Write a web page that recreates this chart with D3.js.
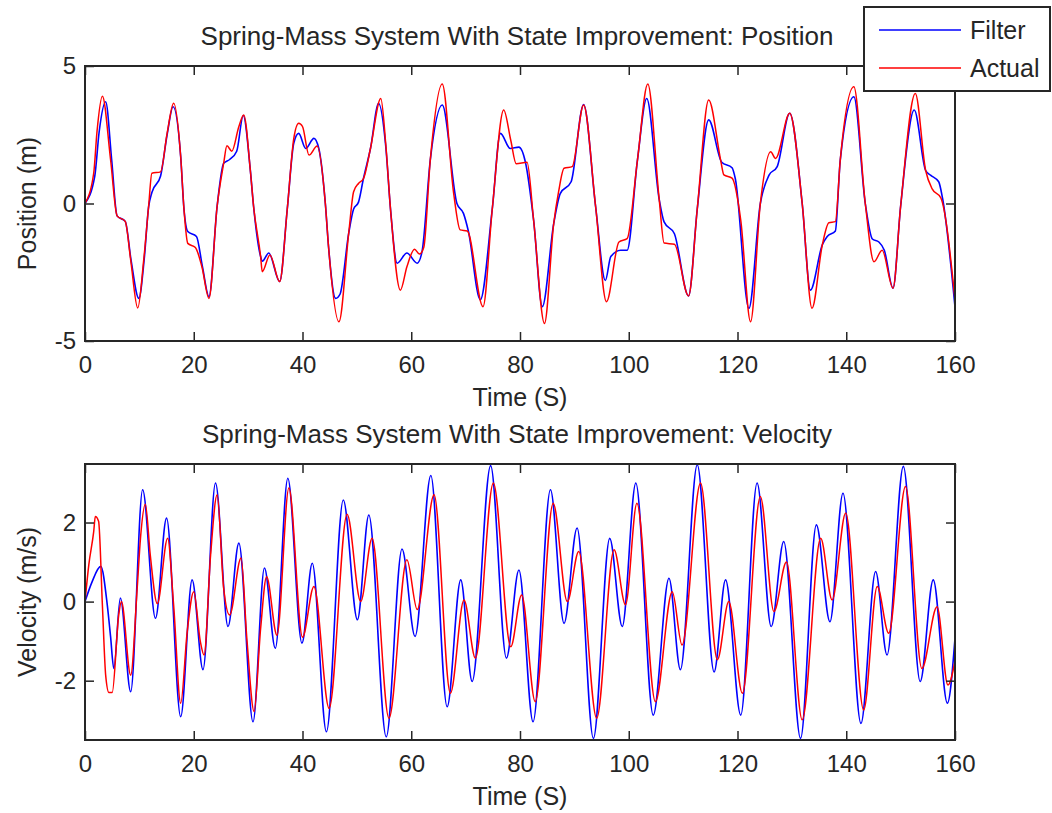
<!DOCTYPE html>
<html>
<head>
<meta charset="utf-8">
<script src="https://cdn.jsdelivr.net/npm/d3@7"></script>
<style>
  html, body { margin: 0; padding: 0; background: #fff; }
  svg { display: block; font-family: "Liberation Sans", Arial, sans-serif; }
</style>
</head>
<body>
<svg id="chart" width="1052" height="813"></svg>
<script>
// ---------------- data ----------------
const xTicks = [0, 20, 40, 60, 80, 100, 120, 140, 160];
const posTicks = [-5, 0, 5];
const velTicks = [-2, 0, 2];
const seriesNames = ["Filter", "Actual"];

const posActualT = [0, 1.6, 2.2, 3.2, 4.7, 5.9, 7.4, 8.4, 9.7, 10.8, 11.7, 12.3, 13.9, 15.1, 16.3, 17.6, 18.2, 18.9, 20.3, 21.5, 22.8, 24.3, 25.5, 26.1, 27.0, 28.3, 29.2, 30.4, 31.0, 32.3, 32.6, 34.0, 35.8, 37.2, 38.4, 39.3, 40.0, 41.2, 42.7, 44.2, 44.8, 46.7, 48.5, 49.4, 50.3, 51.2, 52.5, 54.4, 55.3, 56.2, 58.0, 59.2, 60.6, 61.5, 62.3, 63.5, 65.7, 67.8, 69.0, 70.3, 73.2, 74.9, 77.0, 78.3, 79.3, 81.3, 82.5, 84.5, 86.2, 87.1, 88.1, 89.6, 91.7, 93.9, 95.9, 98.2, 99.7, 101.6, 103.5, 105.6, 106.5, 108.4, 111.0, 112.6, 114.7, 116.9, 117.5, 119.0, 120.6, 122.4, 124.2, 126.1, 127.0, 129.6, 131.9, 133.7, 135.6, 136.8, 138.0, 138.9, 141.4, 143.5, 145.1, 146.6, 148.6, 150.0, 152.7, 154.6, 155.8, 157.4, 160];
const posActual = [0, 1.1, 2.6, 3.9, 1.6, -0.45, -0.65, -2.05, -3.8, -2.05, -0.1, 1.1, 1.15, 2.55, 3.65, 1.7, -0.2, -1.45, -1.6, -2.3, -3.45, -0.1, 1.46, 2.1, 1.9, 2.8, 3.22, 1.22, -0.1, -1.93, -2.48, -1.87, -2.84, -0.2, 2.37, 2.92, 2.8, 1.76, 2.09, 0, -1.6, -4.3, -1.08, 0.43, 0.73, 0.9, 2.0, 3.82, 2.19, -0.24, -3.15, -2.3, -1.66, -1.84, -1.6, 1.58, 4.35, 0.37, -0.96, -1.0, -3.75, -0.2, 3.4, 2.3, 1.45, 1.5, -0.6, -4.36, -0.73, 0.43, 1.28, 1.34, 3.58, -0.1, -3.57, -1.4, -1.28, 1.58, 4.35, 0.15, -1.44, -1.48, -3.36, -0.2, 3.76, 1.58, 1.04, 0.92, -0.61, -4.3, 0, 1.88, 1.64, 3.28, 0, -3.81, -1.5, -0.7, -0.66, 1.58, 4.25, 0, -2.12, -1.7, -3.08, -0.1, 4.0, 1.2, 0.53, 0.2, -3.5];

const posFilterT = [0, 1.8, 2.6, 3.8, 4.9, 5.9, 7.4, 8.5, 9.9, 10.9, 11.7, 12.3, 13.9, 15.1, 16.2, 17.6, 18.2, 18.9, 20.5, 21.6, 22.8, 24.3, 25.5, 26.6, 27.9, 29.1, 30.4, 31.0, 32.3, 32.6, 33.8, 35.8, 37.2, 38.4, 39.3, 40.6, 42.1, 43.0, 44.2, 44.8, 46.1, 46.9, 48.5, 49.4, 50.3, 51.2, 52.5, 54.0, 55.3, 56.2, 57.4, 59.2, 61.1, 62.0, 63.5, 65.7, 68.4, 69.6, 70.5, 72.7, 74.9, 76.4, 78.2, 79.8, 81.0, 82.5, 84.1, 86.2, 87.4, 89.4, 91.7, 93.9, 95.7, 96.7, 98.5, 99.7, 101.6, 103.3, 105.6, 106.5, 108.4, 111.0, 112.6, 114.7, 117.1, 119.0, 119.6, 122.1, 124.2, 125.8, 127.3, 129.6, 131.9, 133.4, 135.6, 136.5, 138.0, 138.9, 141.4, 143.5, 144.8, 146.0, 147.0, 148.6, 150.0, 152.5, 154.6, 155.5, 157.0, 157.7, 160];
const posFilter = [0, 1.0, 2.6, 3.7, 1.6, -0.45, -0.65, -2.1, -3.45, -2.0, -0.12, 0.4, 1.0, 2.5, 3.52, 1.7, -0.2, -1.02, -1.2, -2.3, -3.39, -0.1, 1.46, 1.6, 1.9, 3.2, 1.22, -0.1, -1.93, -2.1, -1.8, -2.84, -0.2, 2.2, 2.55, 2.0, 2.37, 2.0, 0, -1.6, -3.45, -3.3, -1.08, -0.2, 0.05, 0.9, 2.0, 3.64, 2.1, -0.24, -2.17, -1.8, -2.17, -1.73, 1.58, 3.58, 0, -0.36, -1.0, -3.5, -0.2, 2.55, 2.0, 2.05, 1.5, -0.6, -3.75, -0.73, 0.36, 0.79, 3.6, -0.1, -2.8, -1.93, -1.7, -1.7, 1.58, 3.82, 0.15, -0.67, -1.1, -3.36, -0.2, 3.04, 1.5, 1.3, 0.9, -3.81, 0, 1.03, 1.34, 3.28, 0, -3.15, -1.5, -1.2, -1.0, 1.58, 3.88, 0, -1.29, -1.4, -1.7, -3.08, -0.1, 3.4, 1.2, 1.03, 0.79, 0.2, -3.76];

const velActualT = [0, 0.7, 1.6, 1.9, 2.5, 3.2, 3.8, 4.4, 5.0, 6.2, 6.7, 8.4, 9.6, 10.2, 11.1, 12.0, 13.3, 15.2, 16.3, 17.6, 18.8, 20.0, 21.2, 21.9, 23.1, 24.3, 25.5, 26.6, 28.7, 29.8, 31.1, 32.3, 33.4, 35.3, 37.5, 40.0, 42.1, 44.9, 48.2, 50.7, 52.8, 55.9, 59.2, 61.1, 64.2, 67.2, 69.7, 71.8, 75.1, 78.3, 80.3, 82.8, 86.1, 88.7, 90.8, 94.1, 97.3, 99.4, 101.5, 104.9, 108.0, 109.8, 113.2, 116.3, 118.4, 120.9, 124.2, 126.7, 129.0, 131.9, 135.3, 137.4, 139.9, 143.2, 145.7, 147.8, 150.9, 153.9, 156.7, 158.7, 160];
const velActual = [0, 0.93, 1.77, 2.15, 2.03, -0.09, -1.86, -2.3, -2.3, -0.34, 0.0, -1.86, 0.34, 1.6, 2.46, 1.18, -0.05, 1.6, -0.09, -2.57, -0.76, 0.25, -1.0, -1.35, 1.18, 2.7, 0.34, -0.34, 1.1, -1.0, -2.78, -0.68, 0.63, -0.85, 2.87, -0.9, 0.38, -2.7, 2.21, 0.0, 1.6, -2.95, 1.06, -0.2, 2.7, -2.32, 0.04, -1.43, 3.0, -1.14, 0.17, -2.53, 2.49, 0, 1.27, -2.95, 1.31, -0.08, 2.49, -2.53, 0.25, -1.1, 3.0, -1.47, 0.0, -2.32, 2.66, -0.25, 1.0, -2.99, 1.6, 0.04, 2.24, -2.74, 0.38, -0.8, 2.91, -1.69, -0.13, -2.11, -1.5];

const velFilterT = [0, 1.3, 2.9, 4.1, 4.7, 5.3, 6.5, 8.4, 10.6, 12.96, 15.0, 17.6, 19.7, 21.7, 24.0, 26.3, 28.3, 30.9, 33.0, 35.0, 37.3, 39.9, 41.8, 44.4, 47.5, 50.1, 52.2, 55.4, 58.3, 60.7, 63.6, 66.6, 69.1, 71.2, 74.6, 77.5, 79.8, 82.4, 85.6, 88.1, 90.5, 93.5, 96.5, 98.8, 101.3, 104.5, 107.4, 109.5, 112.6, 115.7, 117.8, 120.6, 123.6, 126.2, 128.5, 131.6, 134.5, 137.0, 139.4, 142.7, 145.4, 147.5, 150.5, 153.6, 156.0, 158.6, 160];
const velFilter = [0, 0.5, 0.89, -0.09, -0.88, -1.69, 0.09, -2.28, 2.83, -0.42, 2.11, -2.91, 0.55, -1.72, 3.0, -0.63, 1.48, -3.04, 0.85, -1.18, 3.12, -1.05, 0.97, -3.29, 2.57, -0.46, 2.19, -3.42, 1.33, -0.88, 3.19, -2.66, 0.55, -2.02, 3.44, -1.43, 0.8, -3.04, 2.83, -0.55, 1.86, -3.46, 1.6, -0.63, 3.0, -2.87, 0.59, -1.72, 3.46, -1.78, 0.55, -2.87, 3.0, -0.63, 1.52, -3.46, 1.94, -0.51, 2.74, -3.08, 0.76, -1.35, 3.42, -2.02, 0.55, -2.57, -0.93];

// ---------------- drawing ----------------
const svg = d3.select("#chart");
const W = 1052, H = 813;
svg.append("rect").attr("width", W).attr("height", H).attr("fill", "#fff");

const axisColor = "#262626";
const fontFam = '"Liberation Sans", Arial, sans-serif';
const colFilter = "#0000ff", colActual = "#ff0000";
const fmt = d => String(d);

function panel(cfg) {
  const { left, right, top, bottom, yDomain, yTicks, title, yLabel, filterT, filterV, actualT, actualV, id } = cfg;
  const x = d3.scaleLinear().domain([0, 160]).range([left, right]);
  const y = d3.scaleLinear().domain(yDomain).range([bottom, top]);
  const g = svg.append("g");

  g.append("clipPath").attr("id", id).append("rect")
    .attr("x", left).attr("y", top).attr("width", right - left).attr("height", bottom - top);

  const line = (ts, vs) => d3.line().curve(d3.curveMonotoneX)
      .x((d, i) => x(ts[i])).y((d, i) => y(vs[i]))(vs);

  const lines = g.append("g").attr("clip-path", `url(#${id})`);
  lines.append("path").attr("d", line(filterT, filterV))
    .attr("fill", "none").attr("stroke", colFilter).attr("stroke-width", 1.6);
  lines.append("path").attr("d", line(actualT, actualV))
    .attr("fill", "none").attr("stroke", colActual).attr("stroke-width", 1.5);

  const styleAxis = sel => {
    sel.select(".domain").remove();
    sel.selectAll(".tick line").attr("stroke", axisColor).attr("stroke-width", 1.5);
    sel.selectAll(".tick text").attr("fill", "#262626").attr("font-size", 24).attr("font-family", fontFam);
  };
  g.append("g").attr("transform", `translate(0,${bottom})`)
    .call(d3.axisBottom(x).tickValues(xTicks).tickSize(-9).tickPadding(15).tickFormat(fmt))
    .call(styleAxis);
  g.append("g").attr("transform", `translate(0,${top})`)
    .call(d3.axisTop(x).tickValues(xTicks).tickSize(-9).tickFormat(""))
    .call(styleAxis);
  g.append("g").attr("transform", `translate(${left},0)`)
    .call(d3.axisLeft(y).tickValues(yTicks).tickSize(-9).tickPadding(9).tickFormat(fmt))
    .call(styleAxis);
  g.append("g").attr("transform", `translate(${right},0)`)
    .call(d3.axisRight(y).tickValues(yTicks).tickSize(-9).tickFormat(""))
    .call(styleAxis);

  g.append("rect").attr("x", left).attr("y", top).attr("width", right - left).attr("height", bottom - top)
    .attr("fill", "none").attr("stroke", axisColor).attr("stroke-width", 2);

  g.append("text").attr("x", 517).attr("y", top - 21).attr("text-anchor", "middle")
    .attr("font-size", 26).attr("font-family", fontFam).attr("fill", "#262626").text(title);
  g.append("text").attr("x", (left + right) / 2).attr("y", bottom + 65).attr("text-anchor", "middle")
    .attr("font-size", 25).attr("font-family", fontFam).attr("fill", "#262626").text("Time (S)");
  g.append("text").attr("transform", `translate(36,${(top + bottom) / 2}) rotate(-90)`)
    .attr("text-anchor", "middle")
    .attr("font-size", 25).attr("font-family", fontFam).attr("fill", "#262626").text(yLabel);
}

panel({
  id: "clipPos", left: 85, right: 955, top: 66, bottom: 341,
  yDomain: [-5, 5], yTicks: posTicks,
  title: "Spring-Mass System With State Improvement: Position",
  yLabel: "Position (m)",
  filterT: posFilterT, filterV: posFilter, actualT: posActualT, actualV: posActual
});
panel({
  id: "clipVel", left: 85, right: 955, top: 464, bottom: 740,
  yDomain: [-3.5, 3.48], yTicks: velTicks,
  title: "Spring-Mass System With State Improvement: Velocity",
  yLabel: "Velocity (m/s)",
  filterT: velFilterT, filterV: velFilter, actualT: velActualT, actualV: velActual
});

// legend
const lg = svg.append("g");
lg.append("rect").attr("x", 864).attr("y", 7).attr("width", 186).attr("height", 84)
  .attr("fill", "#fff").attr("stroke", axisColor).attr("stroke-width", 2);
const legColors = [colFilter, colActual];
seriesNames.forEach((name, i) => {
  const yy = 30 + i * 38;
  lg.append("line").attr("x1", 879).attr("x2", 961).attr("y1", yy).attr("y2", yy)
    .attr("stroke", legColors[i]).attr("stroke-width", 1.5);
  lg.append("text").attr("x", 970).attr("y", yy + 9).attr("font-size", 25)
    .attr("font-family", fontFam).attr("fill", "#262626").text(name);
});
</script>
</body>
</html>
